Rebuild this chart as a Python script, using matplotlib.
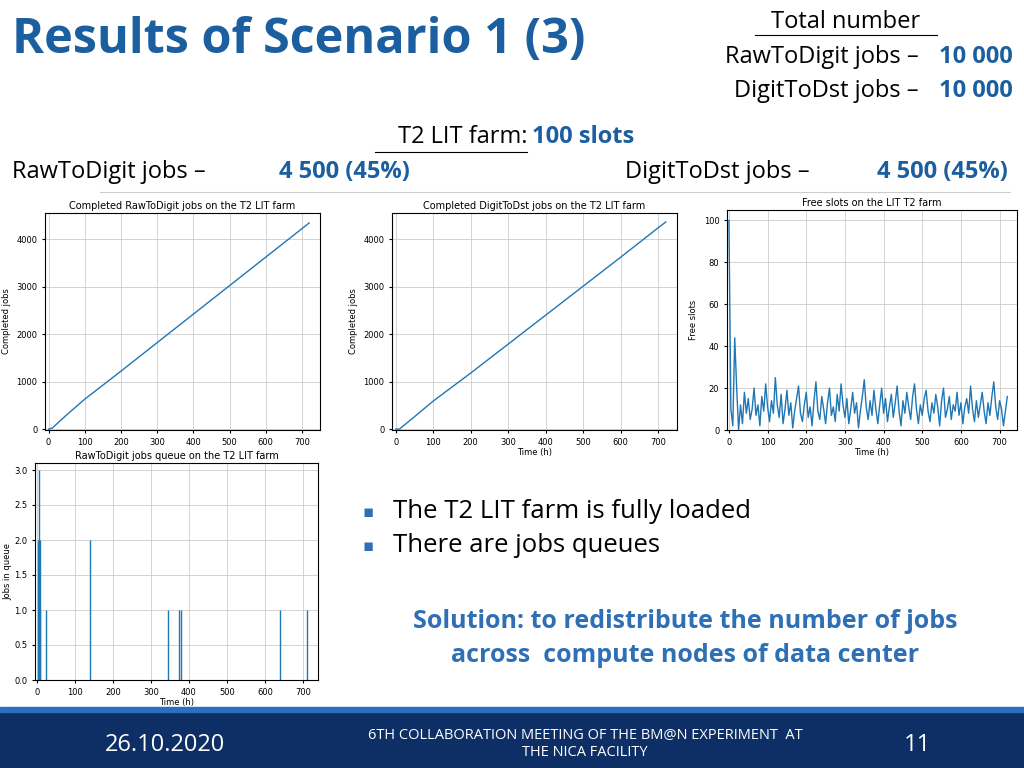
import matplotlib
matplotlib.use("Agg")
import matplotlib.pyplot as plt

# ---- data ----
time_pts = [0, 10, 50, 100, 200, 300, 400, 500, 600, 700, 720]
raw_done = [0, 20, 300, 630, 1220, 1820, 2420, 3020, 3620, 4220, 4340]
dst_done = [0, 0, 260, 590, 1180, 1790, 2400, 3010, 3620, 4240, 4360]

free_time = list(range(0, 725, 5))
free_slots = [100, 10, 2, 44, 20, 0, 12, 3, 18, 8, 15, 5, 10, 20, 7, 12, 2, 16, 9, 22,
              11, 4, 14, 8, 25, 12, 6, 17, 3, 10, 19, 7, 13, 1, 9, 15, 21, 8, 4, 12,
              18, 6, 11, 2, 14, 23, 9, 5, 16, 10, 3, 13, 20, 7, 11, 4, 17, 9, 22, 12,
              6, 15, 3, 10, 18, 8, 13, 1, 9, 16, 24, 11, 5, 14, 7, 19, 10, 3, 12, 20,
              8, 15, 4, 11, 17, 6, 13, 21, 9, 2, 14, 8, 18, 11, 5, 16, 22, 10, 3, 12,
              7, 15, 19, 9, 4, 13, 8, 17, 11, 2, 14, 20, 6, 10, 16, 5, 12, 9, 18, 7,
              13, 3, 11, 15, 8, 21, 10, 4, 14, 6, 12, 18, 9, 3, 13, 7, 16, 23, 11, 5,
              14, 10, 2, 9, 16]
queue_time = [5, 8, 25, 140, 345, 375, 380, 640, 712]
queue_len = [3, 1, 1, 2, 1, 1, 1, 1, 1]
queue_time2 = [3, 7]
queue_len2 = [2, 2]

BLUE = "#1f77b4"
TBLUE = "#1b5fa0"
SF = "Open Sans"
FS = 17

fig = plt.figure(figsize=(10.24, 7.68), dpi=100)
W, H = 1024, 768

def ax_at(l, t, r, b):
    return fig.add_axes([l / W, 1 - b / H, (r - l) / W, (b - t) / H])

def style(ax):
    ax.grid(True, color="#cccccc", lw=0.6)
    ax.tick_params(labelsize=6, length=2)
    ax.set_xticks(range(0, 701, 100))

ax1 = ax_at(45, 213, 320, 430)
ax1.plot(time_pts, raw_done, color=BLUE, lw=1)
ax1.set_xlim(-10, 750); ax1.set_ylim(-20, 4550)
ax1.set_ylabel("Completed jobs", fontsize=6)
ax1.set_title("Completed RawToDigit jobs on the T2 LIT farm", fontsize=7, pad=3)
style(ax1)

ax2 = ax_at(392, 213, 677, 430)
ax2.plot(time_pts, dst_done, color=BLUE, lw=1)
ax2.set_xlim(-10, 750); ax2.set_ylim(-20, 4550)
ax2.set_ylabel("Completed jobs", fontsize=6)
ax2.set_xlabel("Time (h)", fontsize=6, labelpad=1)
ax2.set_title("Completed DigitToDst jobs on the T2 LIT farm", fontsize=7, pad=3)
style(ax2)

ax3 = ax_at(727, 210, 1017, 430)
ax3.plot(free_time, free_slots, color=BLUE, lw=1)
ax3.set_xlim(-5, 745); ax3.set_ylim(0, 105)
ax3.set_ylabel("Free slots", fontsize=6)
ax3.set_xlabel("Time (h)", fontsize=6, labelpad=1)
ax3.set_title("Free slots on the LIT T2 farm", fontsize=7, pad=3)
style(ax3)

ax4 = ax_at(35, 463, 318, 680)
ax4.vlines(queue_time, 0, queue_len, color=BLUE, lw=1)
ax4.vlines(queue_time2, 0, queue_len2, color=BLUE, lw=1)
ax4.set_xlim(-5, 740); ax4.set_ylim(0, 3.1)
ax4.set_ylabel("Jobs in queue", fontsize=6, labelpad=1)
ax4.set_xlabel("Time (h)", fontsize=6, labelpad=1)
ax4.set_title("RawToDigit jobs queue on the T2 LIT farm", fontsize=7, pad=3)
style(ax4)

# ---- slide text ----
fig.text(12/W, 1-40/H, "Results of Scenario 1 (3)", fontsize=35, color=TBLUE,
         fontweight="bold", va="center", family=SF)
fig.text(846/W, 1-22/H, "Total number", fontsize=FS, ha="center", va="center", family=SF)
fig.add_artist(plt.Line2D([755/W, 937/W], [1-35/H, 1-35/H], color="black", lw=0.8))
for y, lab in [(57, "RawToDigit jobs – "), (91, "DigitToDst jobs – ")]:
    fig.text(925/W, 1-y/H, lab, fontsize=FS, ha="right", va="center", family=SF)
    fig.text(1013/W, 1-y/H, "10 000", fontsize=FS, ha="right", va="center",
             color=TBLUE, fontweight="bold", family=SF)
fig.text(527/W, 1-137/H, "T2 LIT farm:", fontsize=FS, ha="right", va="center", family=SF)
fig.add_artist(plt.Line2D([375/W, 527/W], [1-152/H, 1-152/H], color="black", lw=0.8))
fig.text(532/W, 1-137/H, "100 slots", fontsize=FS, ha="left", va="center",
         color=TBLUE, fontweight="bold", family=SF)
fig.text(12/W, 1-172/H, "RawToDigit jobs –", fontsize=FS, va="center", ha="left", family=SF)
fig.text(410/W, 1-172/H, "4 500 (45%)", fontsize=FS, va="center", ha="right", color=TBLUE,
         fontweight="bold", family=SF)
fig.text(625/W, 1-172/H, "DigitToDst jobs –", fontsize=FS, va="center", ha="left", family=SF)
fig.text(1008/W, 1-172/H, "4 500 (45%)", fontsize=FS, va="center", ha="right", color=TBLUE,
         fontweight="bold", family=SF)
fig.add_artist(plt.Line2D([100/W, 1010/W], [1-192/H, 1-192/H], color="#cccccc", lw=0.8))

fig.text(362/W, 1-512/H, "▪", fontsize=12, color="#2e6fb5", va="center")
fig.text(393/W, 1-512/H, "The T2 LIT farm is fully loaded", fontsize=18.5, va="center", family=SF)
fig.text(362/W, 1-546/H, "▪", fontsize=12, color="#2e6fb5", va="center")
fig.text(393/W, 1-546/H, "There are jobs queues", fontsize=18.5, va="center", family=SF)
fig.text(685/W, 1-621/H, "Solution: to redistribute the number of jobs", fontsize=18,
         ha="center", va="center", color="#2e6fb5", fontweight="bold", family=SF)
fig.text(685/W, 1-655/H, "across  compute nodes of data center", fontsize=18,
         ha="center", va="center", color="#2e6fb5", fontweight="bold", family=SF)

# footer
fig.patches.append(plt.Rectangle((0, 0), 1, 56/H, transform=fig.transFigure,
                                 color="#0d2f66", zorder=-1))
fig.patches.append(plt.Rectangle((0, 56/H), 1, 5/H, transform=fig.transFigure,
                                 color="#2a6fc0", zorder=-1))
fig.text(165/W, 1-745/H, "26.10.2020", fontsize=17, color="white", ha="center", va="center", family=SF)
fig.text(585/W, 1-744/H, "6TH COLLABORATION MEETING OF THE BM@N EXPERIMENT  AT\nTHE NICA FACILITY",
         fontsize=10.5, color="white", ha="center", va="center", linespacing=1.2, family=SF)
fig.text(917/W, 1-745/H, "11", fontsize=17, color="white", ha="center", va="center", family=SF)

fig.savefig("out.png", dpi=100)
